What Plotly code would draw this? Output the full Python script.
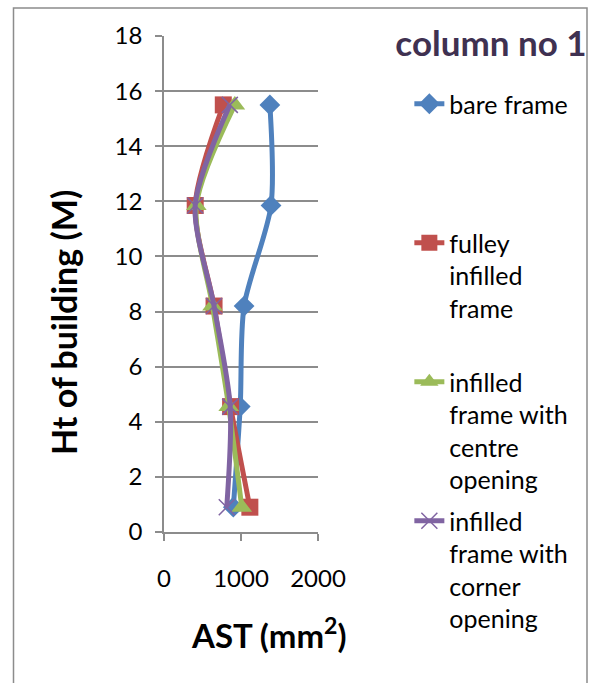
import plotly.graph_objects as go

heights = [0.9, 4.55, 8.2, 11.85, 15.5]
bare_frame = [900, 990, 1040, 1390, 1375]
fulley_infilled = [1115, 865, 650, 405, 770]
centre_opening = [1010, 840, 630, 420, 920]
corner_opening = [815, 860, 650, 405, 855]

series_names = [
    "bare frame<br>&nbsp;<br>&nbsp;<br>&nbsp;",
    "fulley<br>infilled<br>frame<br>&nbsp;",
    "infilled<br>frame with<br>centre<br>opening",
    "infilled<br>frame with<br>corner<br>opening",
]
x_ticks = [0, 1000, 2000]
y_ticks = list(range(0, 19, 2))

W, H = 589, 683
L, R, T, B = 164, 271, 36, 151
FONT = "Lato"
GRID = "#8c8c8c"

fig = go.Figure()
styles = [
    (bare_frame, "#4F81BD", dict(symbol="diamond", size=16, color="#4F81BD")),
    (fulley_infilled, "#C0504D", dict(symbol="square", size=17, color="#C0504D")),
    (centre_opening, "#9BBB59", dict(symbol="triangle-up", size=18, color="#9BBB59")),
    (corner_opening, "#8064A2", dict(symbol="x-thin", size=16, color="#8064A2",
                                     line=dict(color="#8064A2", width=1.5))),
]
for i, (vals, col, mk) in enumerate(styles):
    fig.add_trace(go.Scatter(
        x=vals, y=heights, mode="lines+markers", name=series_names[i],
        line=dict(color=col, width=5, shape="spline", smoothing=0.8),
        marker=mk, legendgroup=str(i),
    ))

pw = W - L - R
ph = H - T - B
def px_x(p):
    return (p - L) / pw
def px_y(p):
    return (H - B - p) / ph

fig.update_layout(
    width=W, height=H,
    margin=dict(l=L, r=R, t=T, b=B),
    paper_bgcolor="white", plot_bgcolor="white",
    font=dict(family=FONT, size=24, color="black"),
    title=dict(text="column no 1", font=dict(family=FONT, size=35, color="#3F3151", weight="bold"),
               xref="container", yref="container", x=491 / W, y=1 - 44 / H,
               xanchor="center", yanchor="middle"),
    showlegend=True,
    legend=dict(xref="container", yref="container", x=0.695, y=1 - 81 / H,
                xanchor="left", yanchor="top", valign="top", maxheight=700,
                font=dict(family=FONT, size=25, color="black"),
                tracegroupgap=6, bgcolor="rgba(0,0,0,0)"),
    xaxis=dict(range=[0, 2000], tickvals=x_ticks, showgrid=False, zeroline=False,
               showline=True, linecolor=GRID, linewidth=1.5, ticks="outside",
               ticklen=7, tickcolor=GRID, tickwidth=1.5, ticklabelstandoff=17,
               tickfont=dict(family=FONT, size=24)),
    yaxis=dict(range=[0, 18], tickvals=y_ticks, showgrid=True, gridcolor=GRID,
               gridwidth=1.5, zeroline=False, showline=True, linecolor=GRID,
               linewidth=1.5, ticks="outside", ticklen=7, tickcolor=GRID,
               tickwidth=1.5, ticklabelstandoff=8,
               tickfont=dict(family=FONT, size=24)),
    annotations=[
        dict(text="AST (mm<sup>2</sup>)", xref="paper", yref="paper",
             x=px_x(269), y=px_y(633), xanchor="center", yanchor="middle",
             showarrow=False, font=dict(family=FONT, size=33, weight="bold")),
        dict(text="Ht of building (M)", xref="paper", yref="paper",
             x=px_x(63), y=px_y(322), xanchor="center", yanchor="middle",
             textangle=-90, showarrow=False,
             font=dict(family=FONT, size=34, weight="bold")),
    ],
    shapes=[dict(type="rect", xref="paper", yref="paper",
                 x0=px_x(13.5), x1=px_x(587), y0=px_y(720), y1=px_y(8),
                 line=dict(color="#8c8c8c", width=1.5), fillcolor="rgba(0,0,0,0)",
                 layer="below")],
)

fig.write_html("out.html")
